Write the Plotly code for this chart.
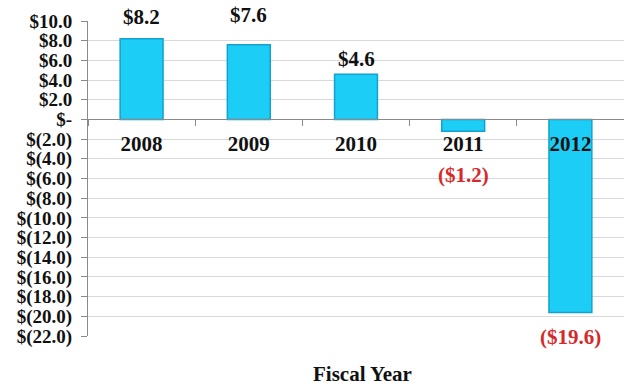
import plotly.graph_objects as go

years = ["2008", "2009", "2010", "2011", "2012"]
values = [8.2, 7.6, 4.6, -1.2, -19.6]
label_texts = ["$8.2", "$7.6", "$4.6", "($1.2)", "($19.6)"]
tick_vals = list(range(-22, 12, 2))
tick_text = [("$%.1f" % v) if v > 0 else ("$-" if v == 0 else "$(%.1f)" % -v) for v in tick_vals]

# styling for labels (pixel offsets from bar end)
label_shift = [22, 30, 15, -44, -25]
label_colors = ["#111111", "#111111", "#111111", "#d42a2a", "#d42a2a"]

FONT = "Liberation Serif, Times New Roman, serif"

fig = go.Figure()
fig.add_trace(go.Bar(
    x=years, y=values, width=0.4,
    marker=dict(color="#1CCDF5", line=dict(color="#12A2CE", width=1.5)),
    hoverinfo="skip",
))

for i, (v, t, s, c) in enumerate(zip(values, label_texts, label_shift, label_colors)):
    fig.add_annotation(x=i, y=v, text="<b>%s</b>" % t, showarrow=False,
                       yanchor="middle", yshift=s,
                       font=dict(family=FONT, size=21, color=c))

fig.add_annotation(x=0.5, y=-0.122, xref="paper", yref="paper",
                   text="<b>Fiscal Year</b>", showarrow=False,
                   yanchor="middle", xshift=6,
                   font=dict(family=FONT, size=21, color="#111111"))

fig.update_layout(
    width=624, height=387,
    margin=dict(l=88, r=0, t=21, b=51),
    paper_bgcolor="white", plot_bgcolor="white",
    showlegend=False,
    font=dict(family=FONT, color="#111111"),
    xaxis=dict(
        type="category", range=[-0.5, len(years) - 0.5], automargin=False,
        anchor="free", position=(0 - (-22)) / 32,
        showline=True, linecolor="#8a8a8a", linewidth=1,
        ticks="outside", tickson="boundaries", ticklen=6, tickcolor="#8a8a8a",
        tickfont=dict(family=FONT, size=21, color="#111111", weight="bold"),
        ticklabelstandoff=5, tickangle=0,
        showgrid=False, zeroline=False,
    ),
    yaxis=dict(
        range=[-22, 10], tickvals=tick_vals, ticktext=tick_text, automargin=False,
        showline=True, linecolor="#8a8a8a", linewidth=1,
        ticks="outside", ticklen=6, tickcolor="#8a8a8a",
        tickfont=dict(family=FONT, size=19, color="#111111", weight="bold"),
        ticklabelstandoff=5,
        showgrid=True, gridcolor="#d9d9d9", gridwidth=1,
        zeroline=True, zerolinecolor="#8a8a8a", zerolinewidth=1,
    ),
)

fig.write_html("out.html", config={"displayModeBar": False},
               post_script="document.body.style.margin='0';document.body.style.overflow='hidden';")
